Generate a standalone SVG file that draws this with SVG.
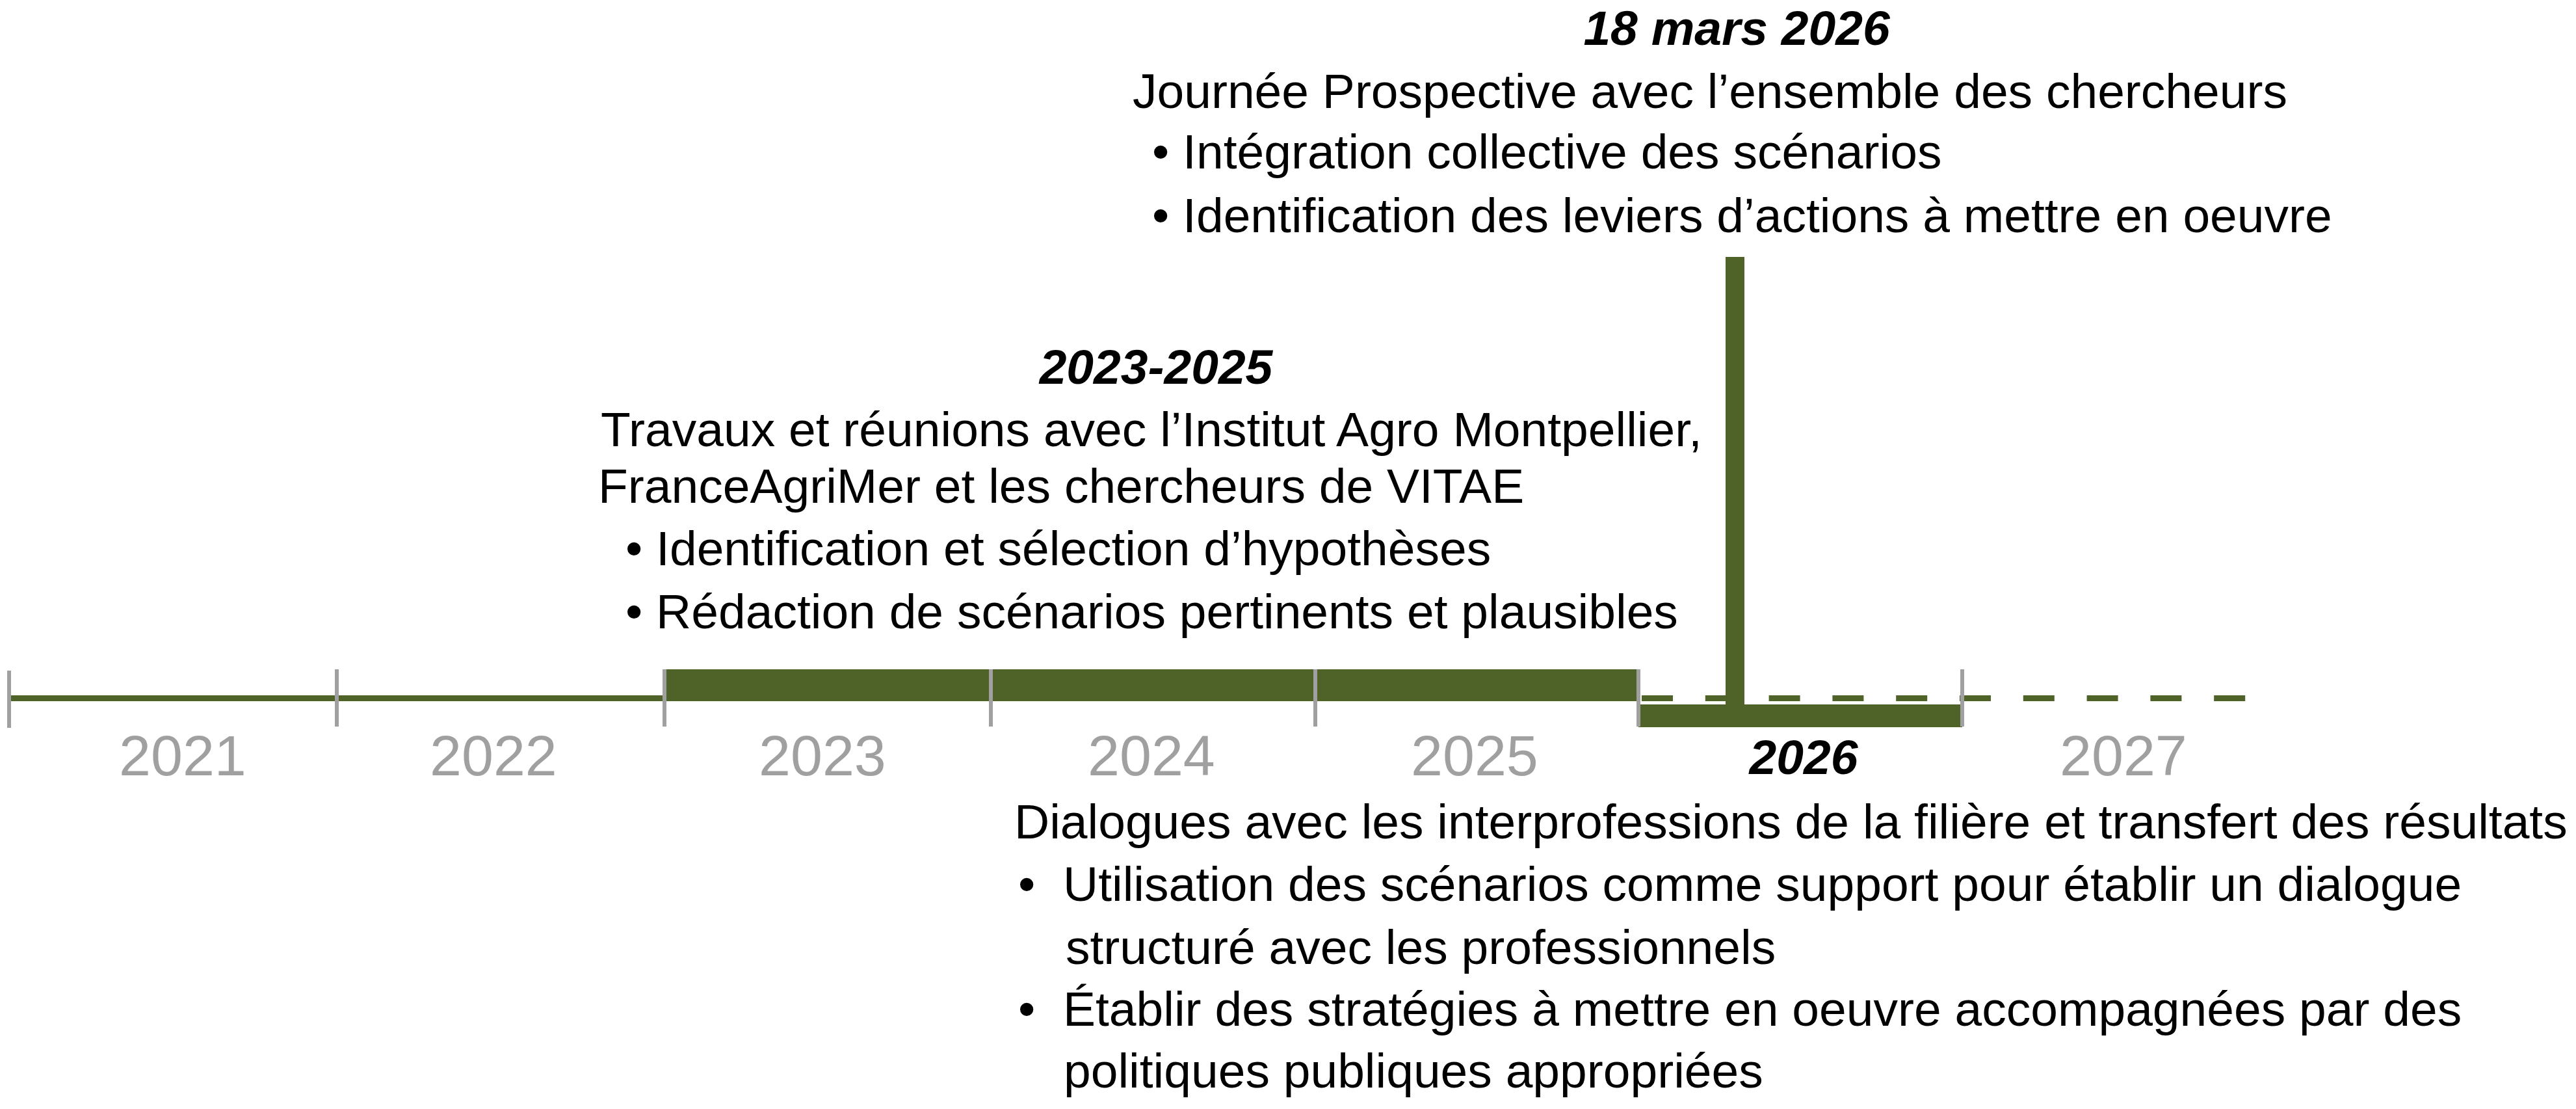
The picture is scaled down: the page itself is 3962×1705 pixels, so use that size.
<svg xmlns="http://www.w3.org/2000/svg" width="3962" height="1705" viewBox="0 0 3962 1705">
  <style>
    text { font-family: "Liberation Sans", Arial, sans-serif; }
    .txt { font-size: 75px; fill: #000000; }
    .head { font-size: 75px; font-weight: bold; font-style: italic; fill: #000000; }
    .year { font-size: 88px; fill: #A0A0A0; }
    .bar { fill: #4F6228; }
    .tick { fill: #A0A0A0; }
  </style>
  <rect width="3962" height="1705" fill="#FFFFFF"/>

  <g id="timeline">
    <rect class="bar" x="14" y="1069" width="1008" height="9"/>
    <rect class="bar" x="1022" y="1029" width="1498" height="49"/>
    <line x1="2525" y1="1073.5" x2="3455" y2="1073.5" stroke="#4F6228" stroke-width="9" stroke-dasharray="48 49.8"/>
    <rect class="bar" x="2520" y="1083" width="498" height="35"/>
  </g>

  <g id="connectors">
    <rect class="bar" x="2654" y="395" width="29" height="690"/>
  </g>

  <g id="ticks">
    <rect class="tick" x="11" y="1031" width="6" height="88"/>
    <rect class="tick" x="515" y="1029" width="6" height="88"/>
    <rect class="tick" x="1019" y="1029" width="6" height="88"/>
    <rect class="tick" x="1521" y="1029" width="6" height="88"/>
    <rect class="tick" x="2020" y="1029" width="6" height="88"/>
    <rect class="tick" x="2517" y="1029" width="6" height="88"/>
    <rect class="tick" x="3015" y="1029" width="6" height="88"/>
  </g>

  <g id="years">
    <text class="year" x="183" y="1192">2021</text>
    <text class="year" x="661" y="1192">2022</text>
    <text class="year" x="1167" y="1192">2023</text>
    <text class="year" x="1673" y="1192">2024</text>
    <text class="year" x="2170" y="1192">2025</text>
    <text class="year" x="3168" y="1192">2027</text>
  </g>

  <g id="event-2026-03-18">
    <text class="head" x="2671" y="69" text-anchor="middle">18 mars 2026</text>
    <text class="txt" x="1742" y="166">Journée Prospective avec l’ensemble des chercheurs</text>
    <text class="txt" x="1772" y="259">• Intégration collective des scénarios</text>
    <text class="txt" x="1772" y="357">• Identification des leviers d’actions à mettre en oeuvre</text>
  </g>

  <g id="event-2023-2025">
    <text class="head" x="1778" y="590" text-anchor="middle">2023-2025</text>
    <text class="txt" x="924" y="686">Travaux et réunions avec l’Institut Agro Montpellier,</text>
    <text class="txt" x="920" y="773">FranceAgriMer et les chercheurs de VITAE</text>
    <text class="txt" x="962" y="869">• Identification et sélection d’hypothèses</text>
    <text class="txt" x="962" y="966">• Rédaction de scénarios pertinents et plausibles</text>
  </g>

  <g id="event-2026">
    <text class="head" x="2774" y="1190" text-anchor="middle">2026</text>
    <text class="txt" x="1560" y="1289">Dialogues avec les interprofessions de la filière et transfert des résultats</text>
    <text class="txt" x="1566" y="1385">•</text>
    <text class="txt" x="1635" y="1385">Utilisation des scénarios comme support pour établir un dialogue</text>
    <text class="txt" x="1639" y="1482">structuré avec les professionnels</text>
    <text class="txt" x="1566" y="1577">•</text>
    <text class="txt" x="1635" y="1577">Établir des stratégies à mettre en oeuvre accompagnées par des</text>
    <text class="txt" x="1636" y="1672">politiques publiques appropriées</text>
  </g>
</svg>
